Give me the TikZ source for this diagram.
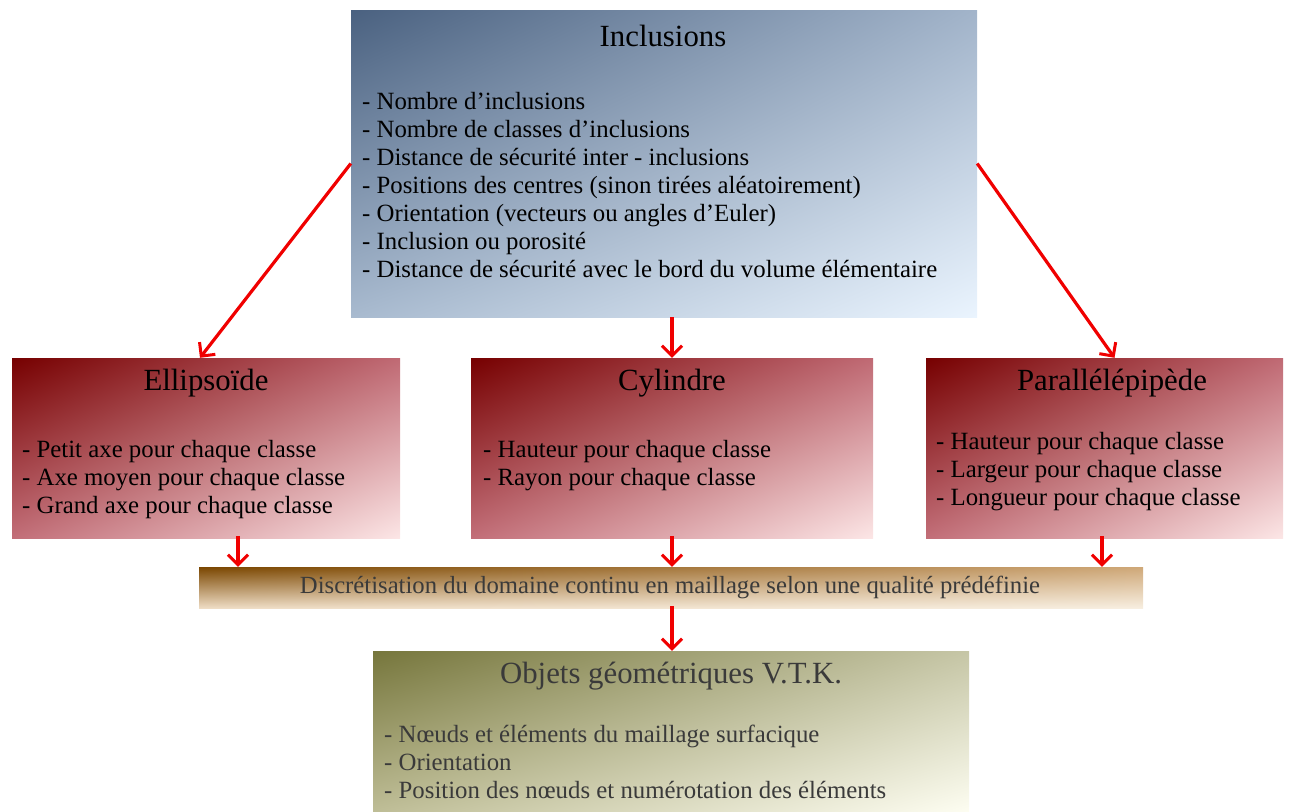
\documentclass[tikz,border=0pt]{standalone}
\usepackage{fontspec}
\setmainfont{Liberation Serif}
\usetikzlibrary{arrows.meta,shadings}
\definecolor{arrred}{HTML}{F00000}
\definecolor{txtgray}{HTML}{3A3A3A}
\tikzset{
  boxshape/.style={rectangle, draw=none, inner sep=0pt, shade},
  titletext/.style={font=\fontsize{30.8}{34}\selectfont, inner sep=0pt},
  bodytext/.style={font=\fontsize{24.8}{28}\selectfont, align=left, anchor=north west, inner sep=0pt},
  arr/.style={draw=arrred, line width=3.2pt, -{Straight Barb[length=10pt,width=20pt,line width=3pt]}},
}
\definecolor{incUL}{HTML}{4A6180}
\definecolor{incUR}{HTML}{A2B4CA}
\definecolor{incLL}{HTML}{A8BACF}
\definecolor{incLR}{HTML}{EAF4FE}
\definecolor{redUL}{HTML}{760000}
\definecolor{redUR}{HTML}{C06A74}
\definecolor{redLL}{HTML}{C26E78}
\definecolor{redLR}{HTML}{FCE6E6}
\definecolor{brUL}{HTML}{7A4600}
\definecolor{brUR}{HTML}{CFA878}
\definecolor{brLL}{HTML}{EEDCC4}
\definecolor{brLR}{HTML}{F7EEE0}
\definecolor{olUL}{HTML}{76763C}
\definecolor{olUR}{HTML}{C6C6A6}
\definecolor{olLL}{HTML}{BEBD96}
\definecolor{olLR}{HTML}{FDFDF1}
\begin{document}
\begin{tikzpicture}[x=1pt,y=-1pt]
\useasboundingbox (0,0) rectangle (1298,811);
% boxes
\node[boxshape, minimum width=626pt, minimum height=307pt,
  upper left=incUL, upper right=incUR, lower left=incLL, lower right=incLR] (incl) at (664,163.5) {};
\node[boxshape, minimum width=388pt, minimum height=180pt,
  upper left=redUL, upper right=redUR, lower left=redLL, lower right=redLR] (ell) at (206,448) {};
\node[boxshape, minimum width=402pt, minimum height=180pt,
  upper left=redUL, upper right=redUR, lower left=redLL, lower right=redLR] (cyl) at (672,448) {};
\node[boxshape, minimum width=357pt, minimum height=180pt,
  upper left=redUL, upper right=redUR, lower left=redLL, lower right=redLR] (par) at (1104.5,448) {};
\node[boxshape, minimum width=944pt, minimum height=41pt,
  upper left=brUL, upper right=brUR, lower left=brLL, lower right=brLR] (disc) at (671,587.5) {};
\node[boxshape, minimum width=596pt, minimum height=160pt,
  upper left=olUL, upper right=olUR, lower left=olLL, lower right=olLR] (obj) at (671,731) {};
% titles
\node[titletext] (inclT) at (663,36) {Inclusions};
\node[titletext] (ellT) at (206,383) {Ellipsoïde};
\node[titletext] (cylT) at (672,383) {Cylindre};
\node[titletext] (parT) at (1112,383) {Parallélépipède};
\node[titletext, text=txtgray] (objT) at (671,676) {Objets géométriques V.T.K.};
\node[inner sep=0pt, text=txtgray, font=\fontsize{24.7}{28}\selectfont] (discT) at (670,587) {Discrétisation du domaine continu en maillage selon une qualité prédéfinie};
% bodies
\node[bodytext] (inclB) at (362,92) {- Nombre d’inclusions\\- Nombre de classes d’inclusions\\- Distance de sécurité inter - inclusions\\- Positions des centres (sinon tirées aléatoirement)\\- Orientation (vecteurs ou angles d’Euler)\\- Inclusion ou porosité\\- Distance de sécurité avec le bord du volume élémentaire};
\node[bodytext] (ellB) at (22,440) {- Petit axe pour chaque classe\\- Axe moyen pour chaque classe\\- Grand axe pour chaque classe};
\node[bodytext] (cylB) at (483,440) {- Hauteur pour chaque classe\\- Rayon pour chaque classe};
\node[bodytext] (parB) at (936,432) {- Hauteur pour chaque classe\\- Largeur pour chaque classe\\- Longueur pour chaque classe};
\node[bodytext, text=txtgray] (objB) at (384,725) {- Nœuds et éléments du maillage surfacique\\- Orientation\\- Position des nœuds et numérotation des éléments};
% connectors
\coordinate (ellIn) at ([xshift=-6pt]ell.north);
\coordinate (parIn) at ([xshift=10pt]par.north);
\draw[arr] (incl.west) -- (ellIn);
\draw[arr] (incl.east) -- (parIn);
\draw[arr] (incl.south -| cyl.north) -- (cyl.north);
\coordinate (ellOut) at ([xshift=32pt]ell.south);
\coordinate (cylOut) at (cyl.south);
\coordinate (parOut) at ([xshift=-2.5pt]par.south);
\draw[arr] ([yshift=2pt]ellOut) -- (ellOut |- disc.north);
\draw[arr] ([yshift=2pt]cylOut) -- (cylOut |- disc.north);
\draw[arr] ([yshift=2pt]parOut) -- (parOut |- disc.north);
\draw[arr] ([yshift=2pt]disc.south -| cyl.south) -- (obj.north -| cyl.south);
\end{tikzpicture}
\end{document}
